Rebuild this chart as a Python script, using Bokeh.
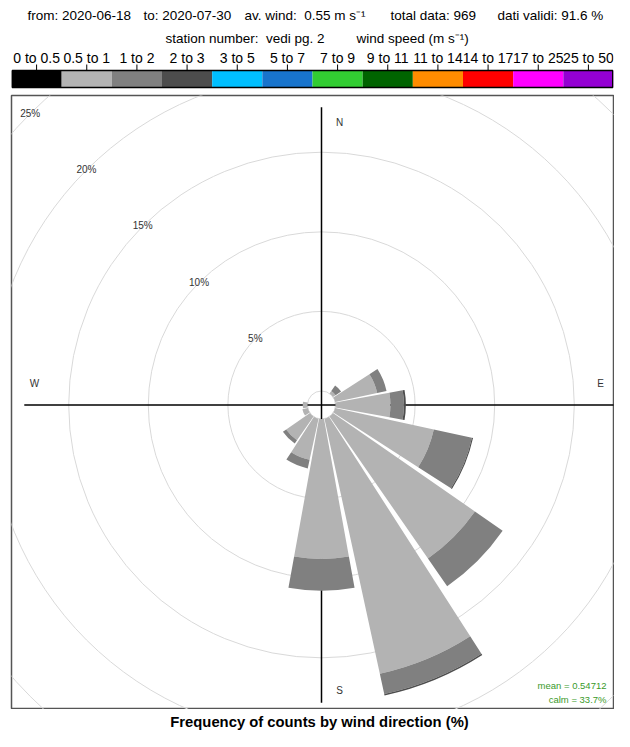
import numpy as np
from bokeh.plotting import figure
from bokeh.layouts import column
from bokeh.models import Range1d
from bokeh.embed import file_html
from bokeh.resources import INLINE
from bokeh.core.properties import value

# ---------------- data ----------------
directions = [0, 22.5, 45, 67.5, 90, 112.5, 135, 157.5, 180, 202.5, 225, 247.5, 270, 292.5, 315, 337.5]
bin_labels = ["0 to 0.5", "0.5 to 1", "1 to 2", "2 to 3", "3 to 5", "5 to 7", "7 to 9",
              "9 to 11", "11 to 14", "14 to 17", "17 to 25", "25 to 50"]
bin_colors = ["#000000", "#B3B3B3", "#808080", "#4D4D4D", "#00BFFF", "#1874CD", "#32CD32",
              "#006400", "#FF8C00", "#FF0000", "#FF00FF", "#9400D3"]
freq_0_05 = [0] * 16
freq_05_1 = [0, 0, 0.20, 2.70, 3.45, 6.34, 10.85, 16.39, 8.79, 2.64, 1.82, 0.35, 0.30, 0, 0, 0]
freq_1_2 = [0, 0, 0.42, 0.60, 0.85, 2.45, 2.12, 1.30, 2.00, 0.56, 0.25, 0, 0, 0, 0, 0]
freq_2_3 = [0, 0, 0, 0, 0.12, 0.07, 0, 0.10, 0, 0, 0, 0, 0, 0, 0, 0]
ring_pcts = [5, 10, 15, 20, 25]
compass_labels = ["N", "E", "S", "W"]
mean_ws = 0.54712
calm_pct = 33.7
date_from = "2020-06-18"
date_to = "2020-07-30"
av_wind = "0.55"
total_data = 969
valid_pct = 91.6
station = "vedi pg. 2"
main_title = "Frequency of counts by wind direction (%)"

FONT = value("Liberation Sans")
PX = 15.92          # pixels per percent
OFFSET = 14 / PX    # calm circle radius (percent units)
CX, CY = 321, 404   # pixel position of the rose centre
SECTOR = 22.5
HALF = SECTOR / 2 - 1
W = 614
PANEL_L, PANEL_R, PANEL_T, PANEL_B = 11, 613, 95, 708
BL, BR = PANEL_L, W - PANEL_R


def X(px):
    return (px - CX) / PX


def Y(py):
    return (CY - py) / PX


# ---------------- header ----------------
hdr = figure(width=W, height=94, x_range=Range1d(PANEL_L, PANEL_R), y_range=Range1d(94, 0),
             x_axis_type=None, y_axis_type=None, output_backend="svg", toolbar_location=None,
             min_border_left=BL, min_border_right=BR, min_border_top=0, min_border_bottom=0,
             outline_line_color=None)
hdr.grid.visible = False
line1 = [f"from: {date_from}", f"to: {date_to}", f"av. wind:\u00a0 {av_wind} m s\u207b\u00b9",
         f"total data: {total_data}", f"dati validi: {valid_pct} %"]
line1_x = [27, 143, 244, 390, 497]
hdr.text(x=line1_x, y=[15] * 5, text=line1, text_font=FONT, text_font_size="13.5px",
         text_align="left", text_baseline="middle", text_color="black")
line2 = [f"station number:\u00a0 {station}", "wind speed (m s\u207b\u00b9)"]
hdr.text(x=[165, 356], y=[38, 38], text=line2, text_font=FONT, text_font_size="13.5px",
         text_align="left", text_baseline="middle", text_color="black")

bw = (PANEL_R - PANEL_L) / len(bin_labels)
lefts = [PANEL_L + i * bw for i in range(len(bin_labels))]
rights = [l + bw for l in lefts]
mids = [l + bw / 2 for l in lefts]
hdr.quad(left=lefts, right=rights, top=70, bottom=87, fill_color=bin_colors, line_color=None)
hdr.quad(left=[PANEL_L + 0.75], right=[PANEL_R - 0.75], top=70, bottom=87, fill_color=None,
         line_color="black", line_width=1.5)
hdr.segment(x0=mids, y0=[64] * len(mids), x1=mids, y1=[70] * len(mids),
            line_color="black", line_width=1)
hdr.text(x=mids, y=[57] * len(mids), text=bin_labels, text_font=FONT, text_font_size="14px",
         text_align="center", text_baseline="middle", text_color="black")

# ---------------- rose panel ----------------
pan = figure(width=W, height=PANEL_B - 94 + 1,
             x_range=Range1d(X(PANEL_L), X(PANEL_R)), y_range=Range1d(Y(PANEL_B), Y(PANEL_T)),
             x_axis_type=None, y_axis_type=None, output_backend="svg", toolbar_location=None,
             min_border_left=BL, min_border_right=BR,
             min_border_top=1, min_border_bottom=0,
             outline_line_color="#555555", outline_line_width=1.5)
pan.grid.visible = False

rings = [0] + ring_pcts + [30, 35]
pan.circle(x=[0] * len(rings), y=[0] * len(rings), radius=[OFFSET + r for r in rings],
           fill_color=None, line_color="#D9D9D9", line_width=1)

bins = [freq_0_05, freq_05_1, freq_1_2, freq_2_3]
totals = [sum(v) for v in zip(*bins)]
L = OFFSET + max(totals)
pan.segment(x0=[-L, 0], y0=[0, -L], x1=[L, 0], y1=[0, L], line_color="black", line_width=1.5)

for d_i, d in enumerate(directions):
    cum = 0.0
    for b_i, b in enumerate(bins):
        f = b[d_i]
        if f <= 0:
            continue
        start = np.deg2rad(90 - (d + HALF))
        end = np.deg2rad(90 - (d - HALF))
        pan.annular_wedge(x=0, y=0, inner_radius=OFFSET + cum, outer_radius=OFFSET + cum + f,
                          start_angle=start, end_angle=end, direction="anticlock",
                          fill_color=bin_colors[b_i], line_color=None)
        cum += f

a = np.deg2rad(45)
rl_x = [-(OFFSET + r) * np.sin(a) for r in ring_pcts]
rl_y = [(OFFSET + r) * np.cos(a) for r in ring_pcts]
pan.text(x=rl_x, y=rl_y, text=[f"{r}%" for r in ring_pcts], text_font=FONT,
         text_font_size="10px", text_align="center", text_baseline="middle",
         text_color="#333333")

pan.text(x=[X(339), X(600), X(339), X(34)], y=[Y(122), Y(383), Y(689), Y(383)],
         text=compass_labels, text_font=FONT, text_font_size="10px",
         text_align="center", text_baseline="middle", text_color="#333333")

pan.text(x=[X(606), X(606)], y=[Y(684), Y(698)],
         text=[f"mean = {mean_ws}", f"calm = {calm_pct}%"], text_font=FONT,
         text_font_size="9.5px", text_align="right", text_baseline="middle",
         text_color="#3A9A2A")

# ---------------- footer title ----------------
FT = PANEL_B + 1
ftr = figure(width=W, height=731 - FT, x_range=Range1d(PANEL_L, PANEL_R), y_range=Range1d(731, FT),
             x_axis_type=None, y_axis_type=None, output_backend="svg", toolbar_location=None,
             min_border_left=BL, min_border_right=BR, min_border_top=0, min_border_bottom=0,
             outline_line_color=None)
ftr.grid.visible = False
ftr.text(x=[319], y=[721], text=[main_title], text_font=FONT, text_font_size="14.8px",
         text_font_style="bold", text_align="center", text_baseline="middle",
         text_color="black")

layout = column(hdr, pan, ftr, spacing=0)
open("out.html", "w").write(file_html(layout, INLINE))
